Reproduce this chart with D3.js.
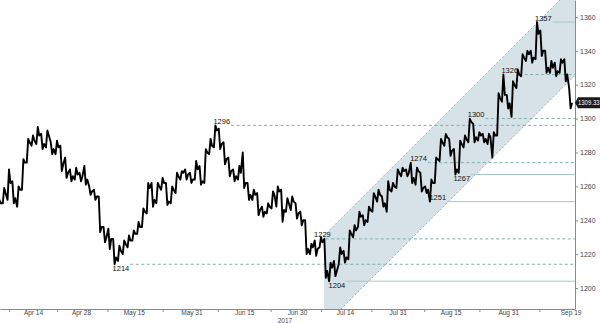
<!DOCTYPE html>
<html>
<head>
<meta charset="utf-8">
<script src="https://cdn.jsdelivr.net/npm/d3@7"></script>
<style>
  html, body { margin: 0; padding: 0; background: #fff; }
  svg { display: block; font-family: "Liberation Sans", Arial, sans-serif; }
</style>
</head>
<body>
<div class="canvas"></div>
<script>
// trading-day index, 0 = Apr 14 2017; first bar is Apr 5
const firstDay = -7

const closes = [
  1250, 1256, 1262, 1253, 1258, 1274, 1286, 1287, 1290, 1285,
  1290, 1282, 1283, 1273, 1268, 1266, 1267, 1266, 1264, 1257,
  1254, 1236, 1230, 1229, 1218, 1222, 1226, 1228, 1232, 1236,
  1245, 1259, 1252, 1260, 1262, 1251, 1258, 1266, 1268, 1267,
  1264, 1270, 1263, 1280, 1284, 1293, 1285, 1276, 1269, 1266,
  1268, 1262, 1255, 1255, 1246, 1245, 1248, 1255, 1257, 1246,
  1250, 1251, 1244, 1240, 1223, 1224, 1223, 1227, 1210, 1212,
  1210, 1220, 1218, 1232, 1234, 1242, 1240, 1246, 1254, 1255,
  1250, 1258, 1260, 1268, 1269, 1268, 1265, 1269, 1259, 1258,
  1262, 1276, 1286, 1289, 1281, 1270, 1285, 1288, 1298, 1289,
  1290, 1288, 1289, 1290, 1312, 1314, 1309, 1320, 1326, 1336,
  1338, 1336, 1350, 1340, 1330, 1330, 1328, 1333, 1326, 1309.33
]
const highs = [
  1252, 1259, 1270, 1263, 1260, 1276, 1288, 1290, 1295, 1291,
  1293, 1286, 1287, 1284, 1277, 1270, 1271, 1268, 1272, 1260,
  1258, 1254, 1236, 1235, 1229, 1225, 1228, 1231, 1234, 1239,
  1247, 1262, 1262, 1262, 1265, 1262, 1260, 1268, 1269, 1270,
  1268, 1275, 1272, 1282, 1288, 1296, 1294, 1286, 1277, 1270,
  1272, 1280, 1262, 1258, 1256, 1248, 1250, 1257, 1260, 1258,
  1253, 1254, 1250, 1245, 1240, 1226, 1228, 1230, 1229, 1215,
  1216, 1224, 1222, 1234, 1237, 1245, 1243, 1248, 1256, 1258,
  1254, 1263, 1262, 1270, 1271, 1270, 1274, 1271, 1268, 1260,
  1264, 1277, 1288, 1291, 1288, 1282, 1287, 1290, 1300, 1297,
  1292, 1291, 1291, 1292, 1315, 1326, 1314, 1322, 1329, 1338,
  1340, 1340, 1357, 1352, 1340, 1334, 1333, 1335, 1335, 1318
]
const lows = [
  1245, 1250, 1252, 1250, 1248, 1258, 1274, 1284, 1285, 1282,
  1283, 1279, 1279, 1269, 1265, 1263, 1264, 1263, 1261, 1255,
  1252, 1233, 1227, 1223, 1214, 1216, 1220, 1224, 1228, 1232,
  1236, 1244, 1248, 1250, 1258, 1249, 1250, 1256, 1264, 1264,
  1262, 1264, 1261, 1262, 1279, 1283, 1282, 1273, 1266, 1263,
  1264, 1259, 1252, 1252, 1243, 1242, 1244, 1247, 1248, 1239,
  1245, 1246, 1241, 1237, 1220, 1220, 1219, 1224, 1206, 1204,
  1207, 1214, 1215, 1217, 1230, 1236, 1237, 1239, 1245, 1251,
  1248, 1245, 1257, 1259, 1266, 1266, 1262, 1261, 1257, 1256,
  1251, 1262, 1275, 1284, 1278, 1267, 1268, 1283, 1286, 1286,
  1287, 1286, 1285, 1277, 1290, 1310, 1306, 1301, 1318, 1325,
  1334, 1333, 1335, 1337, 1327, 1327, 1325, 1327, 1322, 1306
]

const tickDays = [0, 10, 21, 33, 44, 55, 65, 76, 87, 99, 112]
const tickLabels = ['Apr 14', 'Apr 28', 'May 15', 'May 31', 'Jun 15', 'Jun 30',
  'Jul 14', 'Jul 31', 'Aug 15', 'Aug 31', 'Sep 19']
const yearDay = 52.5
const yearLabel = '2017'
const yTicks = [1200, 1220, 1240, 1260, 1280, 1300, 1320, 1340, 1360]

// marked highs / lows and their horizontal levels
const levelValues = [1214, 1296, 1229, 1204, 1274, 1251, 1267, 1300, 1326, 1357]
const levelDays = [17, 38, 61, 62, 79, 83, 88, 91, 98, 105]
const levelKinds = ['dash', 'dash', 'dash', 'solid', 'dash', 'solid', 'solid', 'dash', 'dash', 'solid']
const levelSides = ['below', 'above', 'left', 'below', 'above', 'above', 'below', 'above', 'above', 'above']

// rising channel: [day, price] end points
const channelUpper = [[60.6, 1230.8], [112.9, 1378.8]]
const channelLower = [[60.6, 1177.5], [112.9, 1325.5]]

const lastPrice = 1309.33

const width = 600
const height = 323
const plotW = 575
const plotH = 309

const svg = d3.select('.canvas').append('svg')
  .attr('width', width)
  .attr('height', height)

const x = d3.scaleLinear().domain([-6.875, 112.92]).range([0, plotW])
const y = d3.scaleLinear().domain([1187.6, 1370]).range([plotH, 0])

svg.append('clipPath').attr('id', 'plot')
  .append('rect').attr('width', plotW).attr('height', plotH)

const plot = svg.append('g').attr('clip-path', 'url(#plot)')

// channel shading
const poly = [channelUpper[0], channelUpper[1], channelLower[1], channelLower[0]]
plot.append('path')
  .attr('d', 'M' + poly.map(p => [x(p[0]), y(p[1])].join(',')).join('L') + 'Z')
  .attr('fill', '#d7e1e8')

const straight = d3.line().x(p => x(p[0])).y(p => y(p[1]))
;[channelUpper, channelLower].forEach(seg => {
  plot.append('path')
    .attr('d', straight(seg))
    .attr('fill', 'none')
    .attr('stroke', '#98a4ab')
    .attr('stroke-width', 0.9)
    .attr('stroke-dasharray', '2,2')
})

// level labels and lines
const levels = plot.append('g')
levelValues.forEach((v, k) => {
  const side = levelSides[k]
  const px = x(levelDays[k])
  const py = y(v)
  const t = levels.append('text')
    .text(v)
    .attr('font-size', 7.5)
    .attr('fill', '#111')
    .attr('x', side === 'left' ? px + 5 : px - 2)
    .attr('y', side === 'below' ? py + 6.5 : py - 1.5)
    .attr('text-anchor', side === 'left' ? 'end' : 'start')
  const tw = t.node().getComputedTextLength()
  const x0 = side === 'left' ? px : px - 2 + tw + 1
  levels.insert('line', 'text')
    .attr('x1', x0).attr('x2', plotW)
    .attr('y1', py).attr('y2', py)
    .attr('stroke', levelKinds[k] === 'dash' ? '#82b0a8' : '#a6cbc1')
    .attr('stroke-width', 1)
    .attr('stroke-dasharray', levelKinds[k] === 'dash' ? '3,2.5' : null)
})

// price path: each day goes through its two extremes then the close
const pts = []
closes.forEach((c, k) => {
  const d = firstDay + k
  const up = c >= (k ? closes[k - 1] : c)
  pts.push([d - 0.3, up ? lows[k] : highs[k]])
  pts.push([d, up ? highs[k] : lows[k]])
  pts.push([d + 0.3, c])
})
plot.append('path')
  .attr('d', straight(pts))
  .attr('fill', 'none')
  .attr('stroke', '#000')
  .attr('stroke-width', 1.9)
  .attr('stroke-linejoin', 'round')

// axes
const yAxis = d3.axisRight(y)
  .tickValues(yTicks)
  .tickFormat(d3.format('d'))
  .tickSize(3)
  .tickSizeOuter(0)
  .tickPadding(2)
const yAxisGroup = svg.append('g')
  .attr('transform', `translate(${plotW}, 0)`)
  .call(yAxis)

const xAxis = d3.axisBottom(x)
  .tickValues(tickDays)
  .tickFormat((d, i) => tickLabels[i])
  .tickSize(0)
  .tickSizeOuter(0)
  .tickPadding(1)
const xAxisGroup = svg.append('g')
  .attr('transform', `translate(0, ${plotH})`)
  .call(xAxis)

const mids = tickDays.slice(1).map((d, i) => (d + tickDays[i]) / 2)
mids.unshift(tickDays[0] - (tickDays[1] - tickDays[0]) / 2)
svg.append('g')
  .attr('transform', `translate(0, ${plotH})`)
  .call(d3.axisBottom(x).tickValues(mids).tickFormat('').tickSize(3).tickSizeOuter(0))
  .select('.domain').remove()

svg.selectAll('.domain, .tick line').attr('stroke', '#8a8a8a')
yAxisGroup.selectAll('text').attr('font-size', 7).attr('fill', '#444')
xAxisGroup.selectAll('text').attr('font-size', 6.5).attr('fill', '#444')

svg.append('text')
  .attr('x', x(yearDay))
  .attr('y', 323)
  .attr('text-anchor', 'middle')
  .attr('font-size', 6.5)
  .attr('fill', '#444')
  .text(yearLabel)

// last price tag
const ly = y(lastPrice)
svg.append('path')
  .attr('d', `M${plotW},${ly} L${plotW + 3},${ly - 5.5} L${width},${ly - 5.5} L${width},${ly + 5.5} L${plotW + 3},${ly + 5.5} Z`)
  .attr('fill', '#1a1a1a')
svg.append('text')
  .attr('x', plotW + 3)
  .attr('y', ly + 2.3)
  .attr('font-size', 6.3)
  .attr('textLength', 21.5)
  .attr('lengthAdjust', 'spacingAndGlyphs')
  .attr('fill', '#fff')
  .text(lastPrice.toFixed(2))
</script>
</body>
</html>
